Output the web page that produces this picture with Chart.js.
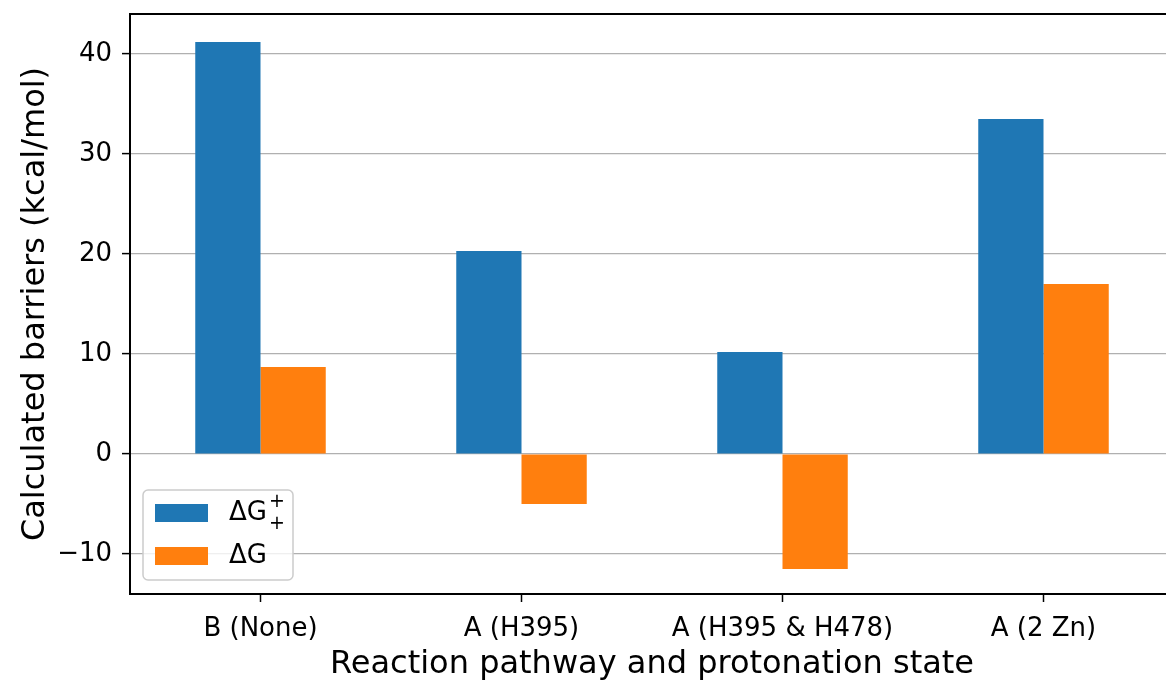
<!DOCTYPE html>
<html>
<head>
<meta charset="utf-8">
<script src="https://cdn.jsdelivr.net/npm/chart.js@4"></script>
<style>
  html, body { margin: 0; padding: 0; background: #fff; overflow: hidden; }
  #wrap { width: 1180px; height: 686px; }
</style>
</head>
<body>
<div id="wrap"><canvas id="barChart" width="1180" height="686"></canvas></div>
<script>
/* Calculated barriers per pathway */
const categories = ['B (None)', 'A (H395)', 'A (H395 & H478)', 'A (2 Zn)'];
const activation = [41.2, 20.3, 10.2, 33.5];   // ΔG‡
const reaction = [8.7, -5.0, -11.5, 17.0];      // ΔG
const seriesNames = ['ΔG⁺₊', 'ΔG'];
const seriesColors = ['#1f77b4', '#ff7f0e'];
const yTicks = [-10, 0, 10, 20, 30, 40];

const FONT = "'DejaVu Sans', sans-serif";

// legend drawn inside the plot, lower left like matplotlib
const boxLegend = {
  id: 'boxLegend',
  afterDraw(chart) {
    const { ctx, chartArea } = chart;
    const x = chartArea.left + 13, y = chartArea.bottom - 104;
    const w = 150, h = 90;
    ctx.save();
    ctx.fillStyle = 'rgba(255,255,255,0.8)';
    ctx.strokeStyle = '#cccccc';
    ctx.lineWidth = 1.5;
    ctx.beginPath();
    ctx.roundRect(x, y, w, h, 5);
    ctx.fill();
    ctx.stroke();
    chart.data.datasets.forEach((ds, i) => {
      const rowY = y + 23 + i * 43;
      ctx.fillStyle = ds.backgroundColor;
      ctx.fillRect(x + 12, rowY - 9, 53, 18);
      ctx.fillStyle = '#000';
      ctx.textBaseline = 'middle';
      ctx.font = `26px ${FONT}`;
      const base = ds.label.replace(/[⁺₊]/g, '');
      ctx.fillText(base, x + 86, rowY);
      if (ds.label !== base) {
        const bw = ctx.measureText(base).width;
        ctx.font = `19px ${FONT}`;
        ctx.fillText('+', x + 88 + bw, rowY - 11);
        ctx.fillText('+', x + 88 + bw, rowY + 11);
      }
    });
    ctx.restore();
  }
};

// full black frame round the plot area
const frame = {
  id: 'frame',
  afterDatasetsDraw(chart) {
    const { ctx, chartArea: a } = chart;
    ctx.save();
    ctx.strokeStyle = '#000';
    ctx.lineWidth = 2;
    ctx.strokeRect(a.left, a.top, a.right - a.left, a.bottom - a.top);
    ctx.restore();
  }
};

new Chart(document.getElementById('barChart'), {
  type: 'bar',
  data: {
    labels: categories,
    datasets: [
      { label: seriesNames[0], data: activation, backgroundColor: seriesColors[0] },
      { label: seriesNames[1], data: reaction, backgroundColor: seriesColors[1] },
    ],
  },
  options: {
    responsive: false,
    animation: false,
    layout: { padding: { top: 14, right: 6, left: 0, bottom: 0 } },
    datasets: { bar: { categoryPercentage: 0.5, barPercentage: 1.0 } },
    plugins: { legend: { display: false }, tooltip: { enabled: false } },
    scales: {
      x: {
        offset: true,
        afterFit: s => { s.height = 92; s.paddingLeft = 0; s.paddingRight = 0; },
        grid: { offset: false, drawOnChartArea: false, tickColor: '#000', tickLength: 8, tickWidth: 1.5 },
        border: { color: '#000', width: 2 },
        ticks: { color: '#000', font: { family: FONT, size: 26 }, padding: 12, maxRotation: 0 },
        title: { display: true, text: 'Reaction pathway and protonation state', color: '#000',
                 font: { family: FONT, size: 32 }, padding: { top: 0, bottom: 2 } },
      },
      y: {
        min: -14,
        max: 44,
        afterFit: s => { s.width = 130; s.paddingTop = 0; s.paddingBottom = 0; },
        afterBuildTicks: s => { s.ticks = yTicks.map(v => ({ value: v })); },
        grid: { color: '#b0b0b0', lineWidth: 1.2, tickColor: '#000', tickLength: 8, tickWidth: 1.5 },
        border: { color: '#000', width: 2 },
        ticks: { color: '#000', font: { family: FONT, size: 26 }, padding: 10,
                 callback: v => (v < 0 ? '\u2212' + Math.abs(v) : String(v)) },
        title: { display: true, text: 'Calculated barriers (kcal/mol)', color: '#000',
                 font: { family: FONT, size: 32 }, padding: { top: 16, bottom: 0 } },
      },
    },
  },
  plugins: [boxLegend, frame],
});
</script>
</body>
</html>
